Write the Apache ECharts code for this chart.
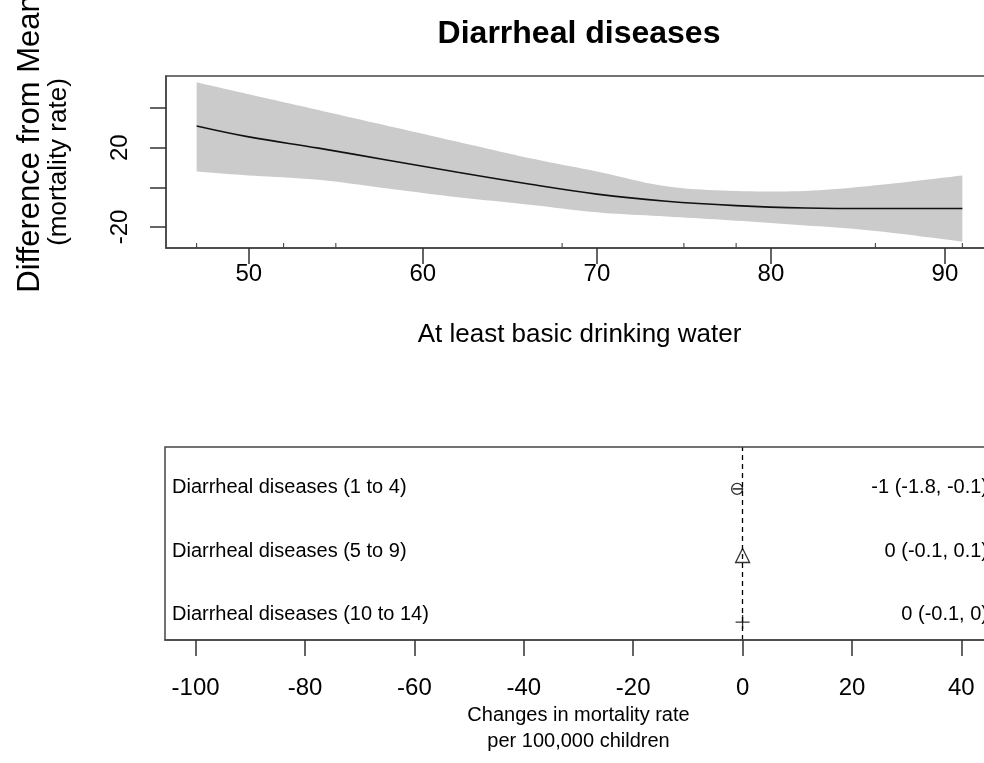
<!DOCTYPE html>
<html><head><meta charset="utf-8">
<script src="https://cdn.jsdelivr.net/npm/echarts@6/dist/echarts.min.js"></script>
<style>html,body{margin:0;padding:0;background:#fff}#c{width:984px;height:763px}</style>
</head><body><div id="c"></div>
<script>
// ---- top panel data (smooth fit with confidence band) ----
const waterX = [47, 50, 54, 58, 62, 66, 70, 74, 78, 82, 86, 91];
const fitLine = [31, 25.5, 19.8, 13.7, 7.6, 1.8, -3.4, -7, -9.2, -10.4, -10.7, -10.7];
const bandUpper = [53, 47, 39, 31, 23, 15, 8, 0.5, -1.8, -1.8, 1, 6];
const bandLower = [8, 6, 3.8, -0.6, -5, -8.6, -12.6, -14.7, -16.8, -19.2, -22, -27.4];
const rugX = [47, 52, 55, 68, 75, 78, 86, 91];
const topXTicks = [50, 60, 70, 80, 90];
const topYTicks = [-20, 0, 20, 40];
const topYLabels = [-20, 20];

// ---- bottom panel data (forest plot) ----
const groups = ['Diarrheal diseases (1 to 4)', 'Diarrheal diseases (5 to 9)', 'Diarrheal diseases (10 to 14)'];
const estimates = [-1, 0, 0];
const ciLow = [-1.8, -0.1, -0.1];
const ciHigh = [-0.1, 0.1, 0];
const rowPos = [3, 2, 1];
const bottomXTicks = [-100, -80, -60, -40, -20, 0, 20, 40];

const font = "'Liberation Sans', Arial, sans-serif";
const ext = (a, b) => { const r = b - a; return [a - 0.04 * r, b + 0.04 * r]; };
const [tx0, tx1] = ext(Math.min(...waterX), Math.max(...waterX));
const [ty0, ty1] = ext(Math.min(...bandLower), Math.max(...bandUpper));
const [bx0, bx1] = ext(-100, 40);

const symbols = ['circle', 'triangle', 'path://M0,5L10,5M5,0L5,10'];
const symbolSizes = [11, 14, 14];
const axisCol = '#444';
const rowRich = {
  p0: { fontSize: 20, padding: [0, 0, 2, 0] },
  p1: { fontSize: 20, padding: [0, 0, 8, 0] },
  p2: { fontSize: 20, padding: [0, 0, 16, 0] }
};

// pixel-level Catmull-Rom smoothing of a polyline (rendering only)
function smoothPx(p, steps) {
  const out = [];
  for (let i = 0; i < p.length - 1; i++) {
    const p0 = p[Math.max(i - 1, 0)], p1 = p[i], p2 = p[i + 1], p3 = p[Math.min(i + 2, p.length - 1)];
    for (let s = 0; s < steps; s++) {
      const t = s / steps, t2 = t * t, t3 = t2 * t;
      const f = k => 0.5 * ((2 * p1[k]) + (-p0[k] + p2[k]) * t + (2 * p0[k] - 5 * p1[k] + 4 * p2[k] - p3[k]) * t2 + (-p0[k] + 3 * p1[k] - 3 * p2[k] + p3[k]) * t3);
      out.push([f(0), f(1)]);
    }
  }
  out.push(p[p.length - 1]);
  return out;
}

const chart = echarts.init(document.getElementById('c'));
chart.setOption({
  animation: false,
  backgroundColor: '#fff',
  textStyle: { fontFamily: font, color: '#000' },
  title: {
    text: 'Diarrheal diseases', left: 574, top: 13, textAlign: 'center',
    textStyle: { fontSize: 32, fontWeight: 'bold', color: '#000', fontFamily: font }
  },
  grid: [
    { left: 166, top: 76, width: 827, height: 172, show: true, z: 10, borderColor: axisCol, borderWidth: 1.5, backgroundColor: 'transparent', outerBoundsMode: 'none', containLabel: false },
    { left: 165, top: 447, width: 827, height: 193, show: true, z: 10, borderColor: axisCol, borderWidth: 1.5, backgroundColor: 'transparent', outerBoundsMode: 'none', containLabel: false }
  ],
  xAxis: [
    {
      gridIndex: 0, type: 'value', min: tx0, max: tx1, z: 10,
      axisLine: { show: true, onZero: false, lineStyle: { color: axisCol, width: 1.5 } },
      splitLine: { show: false },
      axisTick: { show: true, length: 16, customValues: topXTicks, lineStyle: { color: '#333', width: 1.5 } },
      axisLabel: { customValues: topXTicks, margin: 14, fontSize: 24, color: '#000', fontFamily: font },
      name: 'At least basic drinking water', nameLocation: 'middle', nameGap: 74,
      nameTextStyle: { fontSize: 26, color: '#000', fontFamily: font }
    },
    {
      gridIndex: 1, type: 'value', min: bx0, max: bx1, z: 10,
      axisLine: { show: true, onZero: false, lineStyle: { color: axisCol, width: 1.5 } },
      splitLine: { show: false },
      axisTick: { show: true, length: 16, customValues: bottomXTicks, lineStyle: { color: '#333', width: 1.5 } },
      axisLabel: { customValues: bottomXTicks, margin: 36, fontSize: 24, color: '#000', fontFamily: font },
      name: 'Changes in mortality rate\nper 100,000 children', nameLocation: 'middle', nameGap: 62,
      nameTextStyle: { fontSize: 20, lineHeight: 26, color: '#000', fontFamily: font }
    }
  ],
  yAxis: [
    {
      gridIndex: 0, type: 'value', min: ty0, max: ty1, z: 10,
      axisLine: { show: true, onZero: false, lineStyle: { color: axisCol, width: 1.5 } },
      splitLine: { show: false },
      axisTick: { show: true, length: 16, customValues: topYTicks, lineStyle: { color: '#333', width: 1.5 } },
      axisLabel: { customValues: topYLabels, rotate: 90, margin: 34, fontSize: 24, color: '#000', fontFamily: font },
      name: '{a|Difference from Mean}\n{b|(mortality rate)}', nameLocation: 'middle', nameRotate: 90, nameGap: 94,
      nameTextStyle: {
        color: '#000', fontFamily: font, fontSize: 26,
        rich: {
          a: { fontSize: 31, lineHeight: 32, padding: [0, 0, 0, 36], fontFamily: font, color: '#000' },
          b: { fontSize: 26, lineHeight: 26, fontFamily: font, color: '#000' }
        }
      }
    },
    {
      gridIndex: 1, type: 'value', min: 0.73, max: 3.63,
      axisLine: { show: false }, axisTick: { show: false }, splitLine: { show: false },
      axisLabel: {
        customValues: rowPos, inside: true, margin: 7, fontSize: 20, color: '#000', fontFamily: font,
        rich: rowRich,
        formatter: v => { const i = rowPos.indexOf(Math.round(v)); return '{p' + i + '|' + groups[i] + '}'; }
      }
    },
    {
      gridIndex: 1, type: 'value', min: 0.73, max: 3.63, position: 'right',
      axisLine: { show: false }, axisTick: { show: false }, splitLine: { show: false },
      axisLabel: {
        customValues: rowPos, inside: true, margin: 4, fontSize: 20, color: '#000', fontFamily: font,
        rich: rowRich,
        formatter: v => { const i = rowPos.indexOf(Math.round(v)); return '{p' + i + '|' + estimates[i] + ' (' + ciLow[i] + ', ' + ciHigh[i] + ')}'; }
      }
    }
  ],
  series: [
    // confidence band as a single filled polygon
    {
      type: 'custom', xAxisIndex: 0, yAxisIndex: 0, z: 1, silent: true,
      data: waterX.map((x, i) => [x, bandUpper[i], bandLower[i]]),
      renderItem: (params, api) => {
        if (params.dataIndex !== 0) return null;
        const up = smoothPx(waterX.map((x, i) => api.coord([x, bandUpper[i]])), 10);
        const lo = smoothPx(waterX.map((x, i) => api.coord([x, bandLower[i]])), 10).reverse();
        return { type: 'polygon', shape: { points: up.concat(lo) }, style: { fill: '#cbcbcb' } };
      }
    },
    {
      type: 'line', xAxisIndex: 0, yAxisIndex: 0, z: 3,
      data: waterX.map((x, i) => [x, fitLine[i]]),
      smooth: 0.4, showSymbol: false, symbol: 'none',
      lineStyle: { color: '#111', width: 1.6 }
    },
    {
      type: 'custom', xAxisIndex: 0, yAxisIndex: 0, silent: true, z: 4,
      data: rugX.map(x => [x]),
      renderItem: (params, api) => {
        const p = api.coord([api.value(0), ty0]);
        return { type: 'line', shape: { x1: p[0], y1: p[1], x2: p[0], y2: p[1] - 5 }, style: { stroke: '#333', lineWidth: 1 } };
      }
    },
    {
      type: 'custom', xAxisIndex: 1, yAxisIndex: 1, silent: true, z: 4,
      data: rowPos.map((y, i) => [ciLow[i], ciHigh[i], y]),
      renderItem: (params, api) => {
        const a = api.coord([api.value(0), api.value(2)]);
        const b = api.coord([api.value(1), api.value(2)]);
        return { type: 'line', shape: { x1: a[0], y1: a[1], x2: b[0], y2: b[1] }, style: { stroke: '#000', lineWidth: 1.3 } };
      }
    },
    {
      type: 'scatter', xAxisIndex: 1, yAxisIndex: 1, z: 5,
      data: rowPos.map((y, i) => ({ value: [estimates[i], y], symbol: symbols[i], symbolSize: symbolSizes[i] })),
      itemStyle: { color: 'rgba(0,0,0,0)', borderColor: '#000', borderWidth: 1.3 },
      markLine: {
        silent: true, symbol: ['none', 'none'], label: { show: false },
        lineStyle: { type: [5, 4], color: '#000', width: 1.3 },
        data: [{ xAxis: 0 }]
      }
    }
  ]
});
</script></body></html>
